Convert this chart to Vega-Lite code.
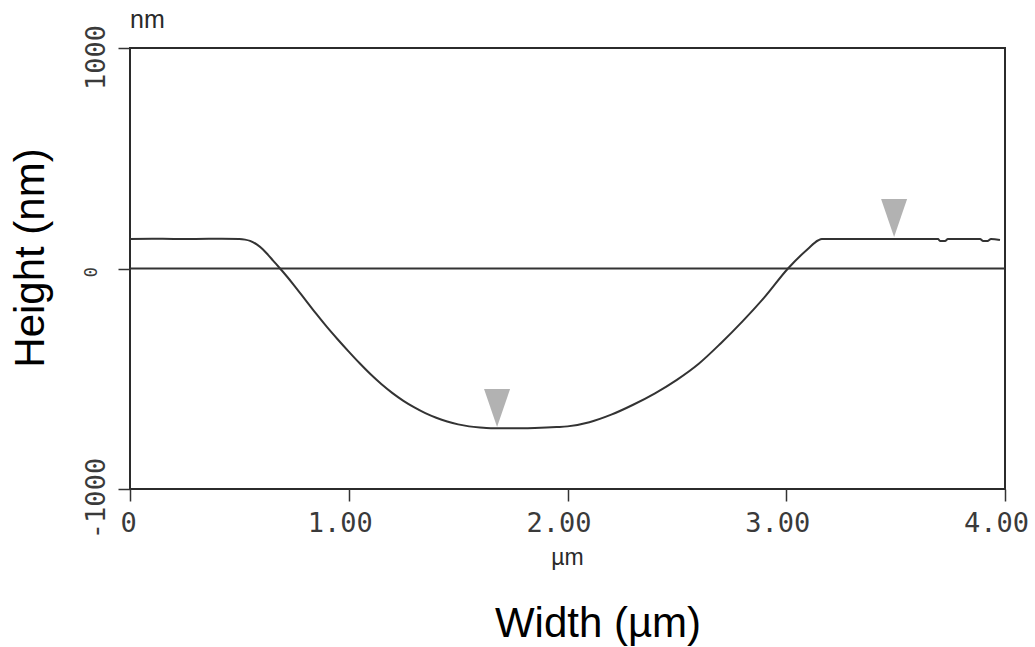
{
  "$schema": "https://vega.github.io/schema/vega-lite/v6.json",
  "autosize": {"type": "none"},
  "width": 875,
  "height": 441,
  "padding": {"left": 130, "top": 48, "right": 30, "bottom": 158},
  "background": "white",
  "config": {
    "view": {"stroke": "#2b2b2b", "strokeWidth": 2}
  },
  "datasets": {
    "profile": [
      {"width": 0, "height": 134},
      {"width": 0.1, "height": 135},
      {"width": 0.2, "height": 134},
      {"width": 0.3, "height": 134},
      {"width": 0.42, "height": 135},
      {"width": 0.5, "height": 134},
      {"width": 0.526, "height": 131},
      {"width": 0.549, "height": 125},
      {"width": 0.581, "height": 108},
      {"width": 0.608, "height": 86},
      {"width": 0.631, "height": 62},
      {"width": 0.654, "height": 36},
      {"width": 0.686, "height": 0},
      {"width": 0.7, "height": -16},
      {"width": 0.75, "height": -76},
      {"width": 0.8, "height": -140},
      {"width": 0.85, "height": -204},
      {"width": 0.9, "height": -265},
      {"width": 0.95, "height": -322},
      {"width": 1.0, "height": -377},
      {"width": 1.05, "height": -430},
      {"width": 1.1, "height": -480},
      {"width": 1.15, "height": -525},
      {"width": 1.2, "height": -565},
      {"width": 1.25, "height": -600},
      {"width": 1.3, "height": -630},
      {"width": 1.35, "height": -656},
      {"width": 1.4, "height": -677},
      {"width": 1.45, "height": -694},
      {"width": 1.5, "height": -707},
      {"width": 1.55, "height": -716},
      {"width": 1.6, "height": -721},
      {"width": 1.65, "height": -724},
      {"width": 1.75, "height": -725},
      {"width": 1.85, "height": -723},
      {"width": 1.95, "height": -719},
      {"width": 2.0, "height": -716},
      {"width": 2.1, "height": -697},
      {"width": 2.2, "height": -663},
      {"width": 2.3, "height": -618},
      {"width": 2.4, "height": -566},
      {"width": 2.5, "height": -505},
      {"width": 2.6, "height": -432},
      {"width": 2.7, "height": -340},
      {"width": 2.8, "height": -240},
      {"width": 2.9, "height": -131},
      {"width": 3.008, "height": 0},
      {"width": 3.1, "height": 90},
      {"width": 3.145, "height": 127},
      {"width": 3.163, "height": 134},
      {"width": 3.3, "height": 134},
      {"width": 3.52, "height": 134},
      {"width": 3.694, "height": 134},
      {"width": 3.703, "height": 125},
      {"width": 3.726, "height": 125},
      {"width": 3.739, "height": 134},
      {"width": 3.886, "height": 134},
      {"width": 3.9, "height": 125},
      {"width": 3.92, "height": 125},
      {"width": 3.936, "height": 134},
      {"width": 3.977, "height": 129}
    ],
    "baseline": [{"height": 0}],
    "cursors": [
      {"width": 1.678, "height": -719},
      {"width": 3.493, "height": 143}
    ],
    "unitY": [{"width": 0, "height": 1091, "label": "nm"}],
    "unitX": [{"width": 2.0, "height": -1345, "label": "µm"}]
  },
  "layer": [
    {
      "data": {"name": "baseline"},
      "mark": {"type": "rule", "color": "#333333", "strokeWidth": 2},
      "encoding": {
        "y": {"field": "height", "type": "quantitative", "scale": {"domain": [-1000, 1000], "nice": false, "zero": false}}
      }
    },
    {
      "data": {"name": "profile"},
      "mark": {"type": "line", "color": "#333333", "strokeWidth": 2, "interpolate": "monotone"},
      "encoding": {
        "x": {
          "field": "width",
          "type": "quantitative",
          "scale": {"domain": [0, 4], "nice": false, "zero": false},
          "axis": {
            "values": [0, 1, 2, 3, 4],
            "labelExpr": "datum.value == 0 ? '0' : format(datum.value, '.2f')",
            "domain": false,
            "grid": false,
            "tickSize": 12,
            "tickColor": "#333333",
            "tickWidth": 1.5,
            "labelFont": "DejaVu Sans Mono",
            "labelFontSize": 27,
            "labelColor": "#3a3a3a",
            "labelPadding": 9,
            "labelBaseline": "top",
            "labelOffset": {"condition": {"test": "datum.value == 0", "value": -2}, "value": -9},
            "labelFlush": false,
            "labelOverlap": false,
            "title": "Width (µm)",
            "titleFont": "Liberation Sans",
            "titleFontSize": 42,
            "titleFontWeight": "normal",
            "titleColor": "#000000",
            "titleX": 467.5,
            "titleY": 147,
            "titleAlign": "center",
            "titleBaseline": "alphabetic",
            "titleAngle": 0
          }
        },
        "y": {
          "field": "height",
          "type": "quantitative",
          "scale": {"domain": [-1000, 1000], "nice": false, "zero": false},
          "axis": {
            "values": [-1000, 0, 1000],
            "labelExpr": "'' + datum.value",
            "domain": false,
            "grid": false,
            "tickSize": 12,
            "tickColor": "#333333",
            "tickWidth": 1.5,
            "labelFont": "DejaVu Sans Mono",
            "labelFontSize": {"condition": {"test": "datum.value == 0", "value": 17}, "value": 27},
            "labelColor": "#3a3a3a",
            "labelAngle": -90,
            "labelAlign": "center",
            "labelBaseline": "alphabetic",
            "labelPadding": {"condition": {"test": "datum.value == 0", "value": 22}, "value": 14},
            "labelOffset": {"condition": {"test": "datum.value == 0", "value": 3}, "value": 9},
            "labelFlush": false,
            "labelOverlap": false,
            "title": "Height (nm)",
            "titleFont": "Liberation Sans",
            "titleFontSize": 42,
            "titleFontWeight": "normal",
            "titleColor": "#000000",
            "titleAngle": -90,
            "titleX": -87,
            "titleY": 209.5,
            "titleAlign": "center",
            "titleBaseline": "alphabetic"
          }
        }
      }
    },
    {
      "data": {"name": "cursors"},
      "mark": {
        "type": "point",
        "shape": "M-1,-2.92L1,-2.92L0,0Z",
        "filled": true,
        "size": 676,
        "color": "#b2b2b2",
        "opacity": 1,
        "strokeWidth": 0
      },
      "encoding": {
        "x": {"field": "width", "type": "quantitative"},
        "y": {"field": "height", "type": "quantitative"}
      }
    },
    {
      "data": {"name": "unitY"},
      "mark": {"type": "text", "align": "left", "baseline": "alphabetic", "font": "Liberation Sans", "fontSize": 25, "color": "#2a2a2a"},
      "encoding": {
        "x": {"field": "width", "type": "quantitative"},
        "y": {"field": "height", "type": "quantitative"},
        "text": {"field": "label"}
      }
    },
    {
      "data": {"name": "unitX"},
      "mark": {"type": "text", "align": "center", "baseline": "alphabetic", "font": "Liberation Sans", "fontSize": 23, "color": "#2a2a2a"},
      "encoding": {
        "x": {"field": "width", "type": "quantitative"},
        "y": {"field": "height", "type": "quantitative"},
        "text": {"field": "label"}
      }
    }
  ]
}
